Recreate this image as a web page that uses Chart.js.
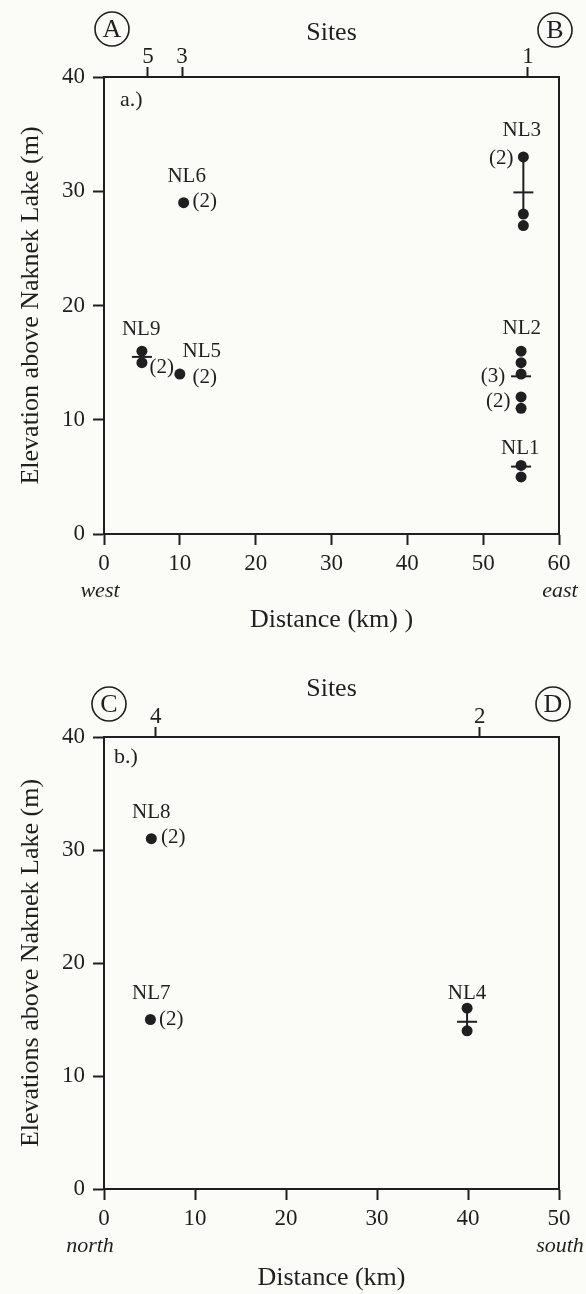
<!DOCTYPE html>
<html>
<head>
<meta charset="utf-8">
<script src="https://cdn.jsdelivr.net/npm/chart.js@4.4.0/dist/chart.umd.min.js"></script>
<style>
  html, body { margin: 0; padding: 0; background: #fbfbf8; }
  #wrap { position: relative; width: 586px; height: 1294px; }
  canvas { position: absolute; left: 0; }
  #panel-a { top: 0; }
  #panel-b { top: 650px; }
</style>
</head>
<body>
<div id="wrap">
  <canvas id="panel-a" width="586" height="650"></canvas>
  <canvas id="panel-b" width="586" height="644"></canvas>
</div>
<script>
// ── Panel a.) west - east ─────────────────────────────────────────────────────
const sitesA    = ['5', '3', '1'];
const siteKmA   = [5.8, 10.3, 55.9];
const dotXA     = [10.5, 5, 5, 10, 55.3, 55.3, 55.3, 55, 55, 55, 55, 55, 55, 55];
const dotYA     = [29, 16, 15, 14, 33, 28, 27, 16, 15, 14, 12, 11, 6, 5];
const meanXA    = [5, 55.3, 55, 55];
const meanYA    = [15.5, 29.9, 13.8, 5.9];
const rangeXA   = [55.3, 55.3];
const rangeYA   = [33, 28];
const labelsA   = ['NL6', '(2)', 'NL9', '(2)', 'NL5', '(2)', 'NL3', '(2)', 'NL2', '(3)', '(2)', 'NL1'];
const labelXA   = [10.9, 13.3, 4.9, 7.6, 12.9, 13.3, 55.1, 52.4, 55.1, 51.3, 52.0, 54.9];
const labelYA   = [31.3, 29.1, 17.9, 14.6, 16.0, 13.7, 35.3, 32.9, 18.0, 13.8, 11.6, 7.5];

// ── Panel b.) north - south ───────────────────────────────────────────────────
const sitesB    = ['4', '2'];
const siteKmB   = [5.7, 41.3];
const dotXB     = [5.2, 5.1, 39.9, 39.9];
const dotYB     = [31, 15, 16, 14];
const meanXB    = [39.9];
const meanYB    = [14.8];
const rangeXB   = [39.9, 39.9];
const rangeYB   = [16, 14];
const labelsB   = ['NL8', '(2)', 'NL7', '(2)', 'NL4'];
const labelXB   = [5.2, 7.6, 5.2, 7.4, 39.9];
const labelYB   = [33.3, 31.1, 17.3, 15.0, 17.3];

const INK   = '#1f1f1f';
const SERIF = '"Liberation Serif", "Times New Roman", serif';

const pts = (xs, ys) => xs.map((v, i) => ({ x: v, y: ys[i] }));

// textes libres : étiquettes NL, lettres cerclées, a.) / b.), directions
const annotPlugin = {
  id: 'annot',
  afterDatasetsDraw(chart, args, o) {
    const { ctx, chartArea: a, scales: { x, y } } = chart;
    ctx.save();
    ctx.fillStyle = INK;
    ctx.strokeStyle = INK;
    ctx.textAlign = 'center';
    ctx.textBaseline = 'middle';

    ctx.font = '21px ' + SERIF;
    o.labels.forEach((t, i) => {
      ctx.fillText(t, x.getPixelForValue(o.lx[i]), y.getPixelForValue(o.ly[i]));
    });

    ctx.textAlign = 'left';
    ctx.font = '22px ' + SERIF;
    ctx.fillText(o.tag, a.left + o.tagDx, a.top + o.tagDy);

    ctx.textAlign = 'center';
    ctx.font = 'italic 22px ' + SERIF;
    ctx.fillText(o.ends[0], a.left + o.endDx[0], a.bottom + 57);
    ctx.fillText(o.ends[1], a.right + o.endDx[1], a.bottom + 57);

    // lettres cerclées : [texte, côté, décalage x, décalage y]
    ctx.lineWidth = 1.6;
    ctx.font = '26px ' + SERIF;
    o.circles.forEach(([t, side, dx, dy]) => {
      const px = (side === 'left' ? a.left : a.right) + dx;
      const py = a.top + dy;
      ctx.beginPath();
      ctx.arc(px, py, 17, 0, Math.PI * 2);
      ctx.stroke();
      ctx.fillText(t, px, py + 1);
    });
    ctx.restore();
  },
};

function makePanel(id, p) {
  const ctx = document.getElementById(id).getContext('2d');
  const tickFont  = { family: SERIF, size: 23, lineHeight: 1.2 };
  const titleFont = { family: SERIF, size: 26, lineHeight: 1.2 };
  const grid = { drawOnChartArea: false, tickLength: 11, tickWidth: 2, tickColor: INK };
  const border = { color: INK, width: 2 };

  return new Chart(ctx, {
    type: 'scatter',
    data: {
      datasets: [
        {
          data: pts(p.rangeX, p.rangeY),
          showLine: true,
          borderColor: INK,
          borderWidth: 2,
          pointRadius: 0,
        },
        {
          data: pts(p.dotX, p.dotY),
          pointRadius: 5.5,
          pointBackgroundColor: INK,
          pointBorderWidth: 0,
        },
        {
          data: pts(p.meanX, p.meanY),
          pointStyle: 'line',
          pointRadius: 10,
          pointBorderColor: INK,
          pointBorderWidth: 2,
        },
      ],
    },
    options: {
      responsive: false,
      animation: false,
      layout: { padding: 0, autoPadding: false },
      plugins: {
        legend: { display: false },
        tooltip: { enabled: false },
        annot: {
          labels: p.labels, lx: p.labelX, ly: p.labelY,
          tag: p.tag, tagDx: p.tagDx, tagDy: p.tagDy,
          ends: p.ends, endDx: p.endDx,
          circles: p.circles,
        },
      },
      scales: {
        x: {
          type: 'linear', position: 'bottom', min: 0, max: p.xMax,
          ticks: { stepSize: 10, color: INK, font: tickFont, padding: 5, maxRotation: 0, autoSkip: false },
          grid, border,
          title: { display: true, text: p.xTitle, color: INK, font: titleFont, padding: { top: 0, bottom: p.xTitlePad } },
          afterFit: s => { s.height = p.xH; },
        },
        x2: {
          type: 'linear', position: 'top', min: 0, max: p.xMax,
          afterBuildTicks: s => { s.ticks = p.siteKm.map(v => ({ value: v })); },
          ticks: { callback: (v, i) => p.sites[i], color: INK, font: tickFont, padding: -4, maxRotation: 0, autoSkip: false },
          grid: { ...grid, tickLength: 10 }, border,
          title: { display: true, text: 'Sites', color: INK, font: titleFont, padding: { top: p.sitesPad, bottom: 0 } },
          afterFit: s => { s.height = p.topH; },
        },
        y: {
          type: 'linear', position: 'left', min: 0, max: 40,
          ticks: { stepSize: 10, color: INK, font: tickFont, padding: 8 },
          grid, border,
          title: { display: true, text: p.yTitle, color: INK, font: titleFont, padding: { top: 16, bottom: 0 } },
          afterFit: s => { s.width = 104; },
        },
        y2: {
          type: 'linear', position: 'right', min: 0, max: 40,
          ticks: { display: false },
          grid: { drawOnChartArea: false, drawTicks: false },
          border,
          afterFit: s => { s.width = 27; },
        },
      },
    },
    plugins: [annotPlugin],
  });
}

makePanel('panel-a', {
  xMax: 60, xH: 116, topH: 77, xTitlePad: 14, sitesPad: 18,
  xTitle: 'Distance (km) )', yTitle: 'Elevation above Naknek Lake (m)',
  sites: sitesA, siteKm: siteKmA,
  dotX: dotXA, dotY: dotYA, meanX: meanXA, meanY: meanYA, rangeX: rangeXA, rangeY: rangeYA,
  labels: labelsA, labelX: labelXA, labelY: labelYA,
  tag: 'a.)', tagDx: 16, tagDy: 23,
  ends: ['west', 'east'], endDx: [-4, 1],
  circles: [['A', 'left', 8, -48], ['B', 'right', -4, -47]],
});

makePanel('panel-b', {
  xMax: 50, xH: 105, topH: 87, xTitlePad: 0, sitesPad: 24,
  xTitle: 'Distance (km)', yTitle: 'Elevations above Naknek Lake (m)',
  sites: sitesB, siteKm: siteKmB,
  dotX: dotXB, dotY: dotYB, meanX: meanXB, meanY: meanYB, rangeX: rangeXB, rangeY: rangeYB,
  labels: labelsB, labelX: labelXB, labelY: labelYB,
  tag: 'b.)', tagDx: 10, tagDy: 20,
  ends: ['north', 'south'], endDx: [-14, 1],
  circles: [['C', 'left', 5, -33], ['D', 'right', -6, -33]],
});
</script>
</body>
</html>
